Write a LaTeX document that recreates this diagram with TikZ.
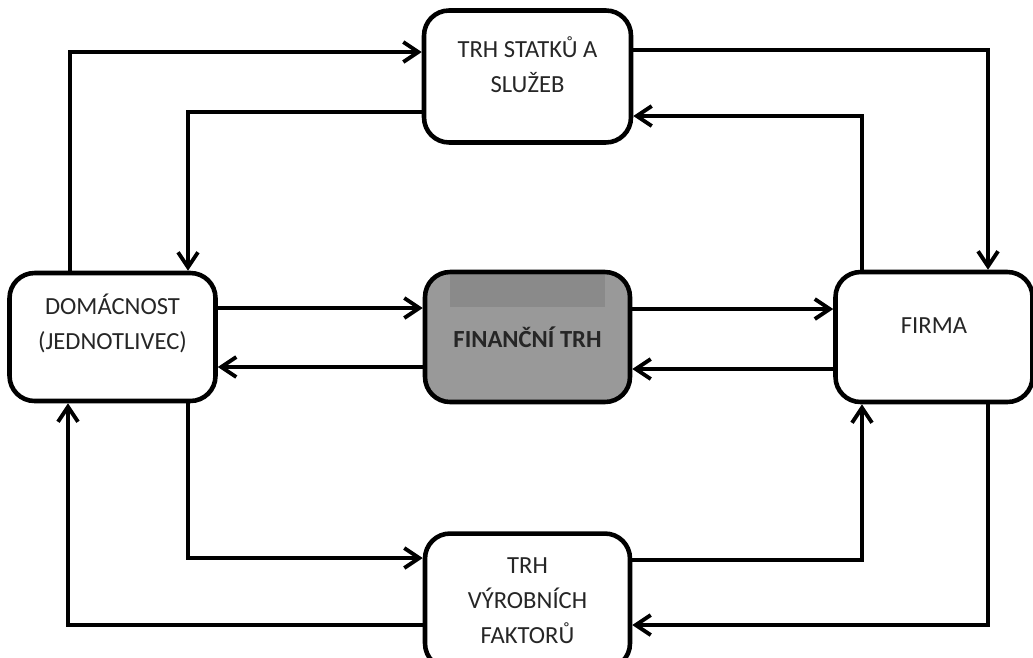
\documentclass[tikz,border=0pt]{standalone}
\usepackage{fontspec}
\setmainfont{Carlito}
\usepackage{tikz}
\usetikzlibrary{arrows.meta, positioning}
\tikzset{
  flowbox/.style={draw, line width=2.6pt, rounded corners=0.5cm, fill=white,
                  minimum width=4.12cm, minimum height=2.6cm, inner sep=0pt},
  marketbox/.style={flowbox},
  agentbox/.style={flowbox},
  financebox/.style={flowbox, fill=black!40, font=\fontsize{14}{20}\selectfont\bfseries, text=black!85},
  boxtext/.style={align=center, text=black!85, font=\fontsize{14}{20}\selectfont},
  flowarrow/.style={-{Straight Barb[length=3mm, width=4mm]}, line width=2.2pt}
}

\begin{document}
\begin{tikzpicture}[x=0.02cm, y=-0.02cm]
\useasboundingbox (0,0) rectangle (1033,657);
\clip (0,0) rectangle (1033,657);

% Boxes
\node[financebox, minimum width=4.1cm] (financni) at (527.5,337) {FINANČNÍ TRH};
\node[agentbox, minimum height=2.56cm] (domacnost) [left=4.1cm of financni] {};
\node[agentbox, minimum width=3.94cm] (firma) [right=4.02cm of financni] {};
\node[marketbox, minimum width=4.14cm, minimum height=2.64cm] (statky) [above=2.5cm of financni] {};
\node[marketbox, minimum width=4.1cm, minimum height=2.7cm] (vyrobni) [below=2.54cm of financni] {};

% Shading band
\fill[black!46] (450,275) rectangle (605,307);

% Texts
\node[boxtext] (statkyText) at ([yshift=0.23cm]statky.center) {TRH STATKŮ A\\SLUŽEB};
\node[boxtext] (domacnostText) at ([yshift=0.27cm]domacnost.center) {DOMÁCNOST\\(JEDNOTLIVEC)};
\node[boxtext] (firmaText) at ([yshift=0.22cm]firma.center) {FIRMA};
\node[boxtext] (vyrobniText) at (vyrobni.center) {TRH\\VÝROBNÍCH\\FAKTORŮ};

% Outer loop
\draw[flowarrow] (70,0 |- domacnost.north) |- (statky.west |- 0,52);
\draw[flowarrow] (statky.east |- 0,50) -| (988,0 |- firma.north);
\draw[flowarrow] (862,0 |- firma.north) |- (statky.east |- 0,116);
\draw[flowarrow] (statky.west |- 0,112) -| (188,0 |- domacnost.north);

% Financial market
\draw[flowarrow] (domacnost.east |- 0,308) -- (financni.west |- 0,308);
\draw[flowarrow] (financni.west |- 0,367) -- (domacnost.east |- 0,367);
\draw[flowarrow] (financni.east |- 0,309) -- (firma.west |- 0,309);
\draw[flowarrow] (firma.west |- 0,369) -- (financni.east |- 0,369);

% Factor market
\draw[flowarrow] (188,0 |- domacnost.south) |- (vyrobni.west |- 0,558);
\draw[flowarrow] (vyrobni.east |- 0,560) -| (862,0 |- firma.south);
\draw[flowarrow] (988,0 |- firma.south) |- (vyrobni.east |- 0,625);
\draw[flowarrow] (vyrobni.west |- 0,625) -| (68,0 |- domacnost.south);

\end{tikzpicture}
\end{document}
